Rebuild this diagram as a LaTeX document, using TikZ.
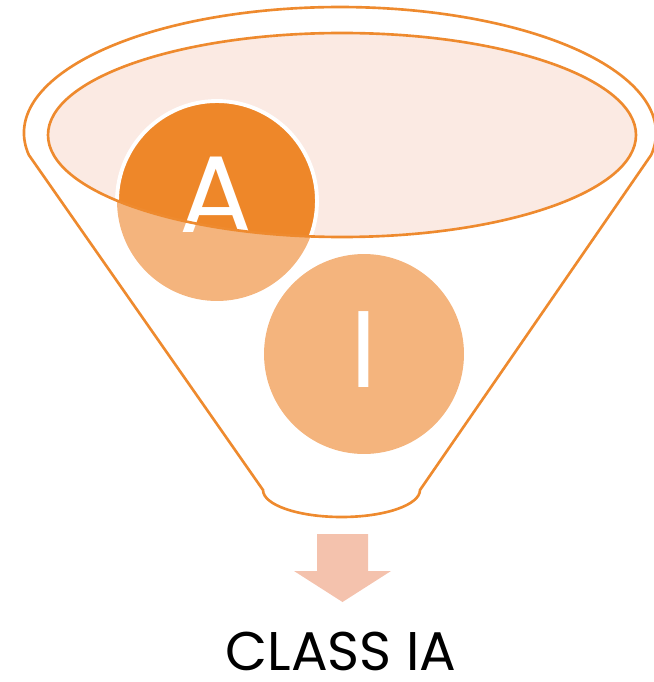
\documentclass[tikz,border=0pt]{standalone}
\usepackage{fontspec}
\setmainfont{Poppins}
\usetikzlibrary{positioning, calc}
\definecolor{naranja}{HTML}{EE8A2E}
\definecolor{naranjaosc}{HTML}{EE8729}
\definecolor{naranjaclaro}{HTML}{F4B47D}
\definecolor{rosado}{HTML}{FBEAE3}
\definecolor{flecha}{HTML}{F4C2AD}
\tikzset{
  borde/.style={draw=naranja, line width=1.5pt},
  bola/.style={circle, minimum size=4cm, inner sep=0pt, fill=naranjaclaro},
  letra/.style={anchor=base, text=white, inner sep=0pt, font=\fontsize{62}{62}\selectfont},
  titulo/.style={anchor=base, inner sep=0pt, font=\fontsize{31}{31}\selectfont}
}

\begin{document}
\begin{tikzpicture}[x=0.02cm, y=-0.02cm]
        \useasboundingbox (0,0) rectangle (653,682);

        % Boca del embudo (relleno)
        \fill[rosado] (342,135) ellipse [x radius=294, y radius=102];

        % Bolas
        \node (bolaA) [bola] at (217,201) {};
        \node (bolaI) [bola] at (364,354) {};
        % Parte de la bola A dentro de la boca
        \begin{scope}
          \clip (342,135) ellipse [x radius=294, y radius=102];
          \node [bola, fill=naranjaosc, draw=white, line width=2.2pt] at (bolaA) {};
        \end{scope}

        % Letras
        \node (letraA) [letra] at (216.5,232) {A};
        \node (letraI) [letra] at (363.5,387) {I};

        % Contornos del embudo
        \draw[borde] (342,135) ellipse [x radius=294, y radius=102];
        \draw[borde] (28.8,154.9) arc[start angle=170, end angle=370, x radius=316, y radius=126]
          -- (420,490) arc[start angle=0, end angle=180, x radius=78.5, y radius=27] -- cycle;

        % Flecha de salida
        \coordinate (salida) at (342.5,534);
        \fill[flecha] (salida) ++(-25.5,0) -- ++(51,0) -- ++(0,37) -- ++(23,0)
          -- (342.5,602) -- (294,571) -- ++(23,0) -- cycle;

        % Resultado
        \node (clase) [titulo] at (341,670) {CLASS IA};

\end{tikzpicture}
\end{document}
